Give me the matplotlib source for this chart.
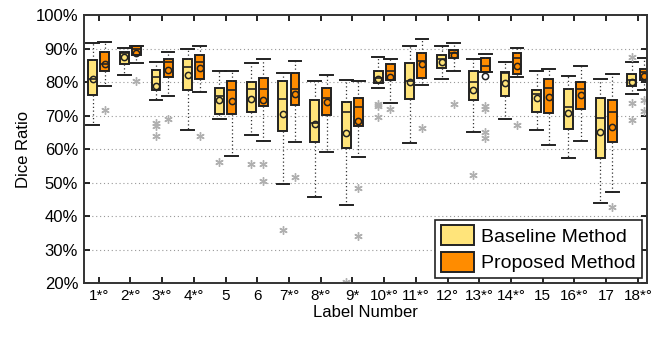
import matplotlib
matplotlib.use('Agg')
import matplotlib.pyplot as plt
from matplotlib.patches import Patch

plt.rcParams['font.family'] = ['Liberation Sans Narrow', 'Liberation Sans', 'DejaVu Sans']

# tick labels of the 18 labels
labels = ['1*°', '2*°', '3*°', '4*°', '5', '6', '7*°', '8*°', '9*', '10*°',
          '11*°', '12°', '13*°', '14*°', '15', '16*°', '17', '18*°']

# baseline method: whisker low, q1, median, q3, whisker high, mean (%)
base_low = [67.2, 82.1, 74.8, 65.7, 69.0, 64.2, 49.5, 45.8, 43.3, 78.4, 61.7, 80.8, 65.2, 68.9, 65.7, 57.2, 43.8, 76.4]
base_q1 = [76.1, 85.3, 77.6, 77.8, 70.6, 71.0, 65.4, 62.2, 60.2, 79.6, 75.1, 84.3, 74.6, 75.9, 71.1, 65.9, 57.4, 78.8]
base_med = [80.8, 88.7, 81.4, 84.4, 76.0, 77.9, 74.9, 67.9, 71.0, 81.1, 80.4, 86.8, 80.1, 82.6, 76.6, 72.5, 69.2, 80.6]
base_q3 = [86.6, 89.1, 83.6, 86.9, 78.4, 79.9, 80.3, 74.8, 74.1, 83.4, 85.6, 88.1, 83.4, 83.1, 77.8, 78.1, 75.4, 82.3]
base_high = [91.7, 90.3, 86.0, 90.0, 83.3, 85.8, 82.6, 80.4, 80.6, 87.6, 90.7, 90.7, 86.8, 85.9, 83.4, 81.8, 80.9, 86.1]
base_mean = [80.9, 87.4, 78.8, 82.1, 74.6, 74.9, 70.6, 67.5, 64.9, 80.9, 79.9, 86.1, 77.8, 79.8, 75.4, 70.9, 65.0, 80.1]
base_out = [[], [], [67.7, 66.9, 63.9], [], [56.2], [55.7], [35.8], [], [20.2],
            [73.6, 72.8, 69.7], [], [], [52.2], [], [], [], [], [87.6, 73.8, 68.7]]

# proposed method
prop_low = [78.8, 85.6, 75.9, 77.1, 57.9, 62.4, 62.0, 59.2, 57.5, 73.8, 79.1, 83.3, 83.1, 81.6, 61.2, 62.4, 47.1, 77.6]
prop_q1 = [83.4, 88.1, 81.4, 80.9, 70.6, 72.8, 73.1, 70.1, 67.0, 80.6, 81.1, 87.1, 83.1, 82.3, 70.9, 72.1, 62.0, 80.6]
prop_med = [85.4, 89.8, 86.1, 86.1, 77.8, 78.1, 78.1, 75.3, 72.6, 83.4, 86.4, 88.7, 84.8, 87.1, 78.4, 78.1, 71.0, 82.9]
prop_q3 = [89.1, 90.8, 86.9, 88.1, 80.4, 81.1, 82.6, 78.3, 75.4, 85.4, 88.6, 89.6, 87.1, 88.6, 80.8, 80.1, 74.6, 83.8]
prop_high = [92.0, 90.8, 88.9, 90.7, 83.3, 86.9, 86.4, 82.1, 80.4, 86.8, 93.0, 91.7, 88.4, 90.3, 83.9, 84.9, 82.4, 87.1]
prop_mean = [85.4, 88.6, 83.6, 84.1, 74.4, 74.6, 76.4, 74.1, 68.4, 81.6, 85.3, 88.1, 81.8, 84.9, 75.6, 76.3, 66.5, 81.9]
prop_out = [[71.6], [80.4], [68.9], [63.9], [], [55.7, 50.4], [51.7], [], [48.3, 34.0],
            [71.9], [66.2], [73.4], [72.8, 71.9, 65.2, 63.3], [67.2], [], [], [42.8], [74.8, 71.3]]

base_color = '#FFE47A'
prop_color = '#FF8C00'


def make_stats(low, q1, med, q3, high, mean, out):
    stats = []
    for i in range(len(low)):
        stats.append(dict(whislo=low[i], q1=q1[i], med=med[i], q3=q3[i],
                          whishi=high[i], mean=mean[i], fliers=out[i]))
    return stats


fig = plt.figure(figsize=(6.54, 3.37), dpi=100)
ax = fig.add_axes([0.128, 0.160, 0.861, 0.795])

pos = list(range(1, len(labels) + 1))
for stats, off, col in [(make_stats(base_low, base_q1, base_med, base_q3, base_high, base_mean, base_out), -0.19, base_color),
                        (make_stats(prop_low, prop_q1, prop_med, prop_q3, prop_high, prop_mean, prop_out), 0.19, prop_color)]:
    ax.bxp(stats, positions=[p + off for p in pos], widths=0.28, capwidths=0.4,
           patch_artist=True, showmeans=True, manage_ticks=False,
           boxprops=dict(facecolor=col, edgecolor='#222222', linewidth=1.4),
           medianprops=dict(color='#222222', linewidth=1.2),
           whiskerprops=dict(color='#333333', linestyle=(0, (1, 2)), linewidth=0.9),
           capprops=dict(color='#222222', linewidth=1.4),
           meanprops=dict(marker='o', markersize=4.5, markerfacecolor='none',
                          markeredgecolor='#222222', markeredgewidth=1.1),
           flierprops=dict(marker=(6, 2, 0), markersize=6, markeredgecolor='#b0b0b0',
                           markeredgewidth=1.0, linestyle='none'))

ax.set_xlim(0.53, 18.28)
ax.set_ylim(20, 100)
ax.set_yticks(range(20, 101, 10))
ax.set_yticklabels(['%d%%' % v for v in range(20, 101, 10)], fontsize=12)
ax.set_xticks(pos)
ax.set_xticklabels(labels, fontsize=11)
ax.tick_params(direction='in', top=True, right=True, length=4, width=1.2, pad=4)
for y in range(30, 100, 10):
    ax.axhline(y, color='#999999', linestyle=(0, (1, 2.5)), linewidth=0.8, zorder=0)
for s in ax.spines.values():
    s.set_linewidth(1.4)
    s.set_color('#333333')

ax.set_ylabel('Dice Ratio', fontsize=12, labelpad=3)
ax.set_xlabel('Label Number', fontsize=12, labelpad=2)

handles = [Patch(facecolor=base_color, edgecolor='#222222', linewidth=1.4, label='Baseline Method'),
           Patch(facecolor=prop_color, edgecolor='#222222', linewidth=1.4, label='Proposed Method')]
leg = ax.legend(handles=handles, loc='lower right', fontsize=14, fancybox=False,
                framealpha=1, edgecolor='#222222', handlelength=1.7, handleheight=1.2,
                borderaxespad=0.25, handletextpad=0.4, labelspacing=0.3, borderpad=0.3)
leg.get_frame().set_linewidth(1.2)

fig.savefig('out.png', dpi=100)
